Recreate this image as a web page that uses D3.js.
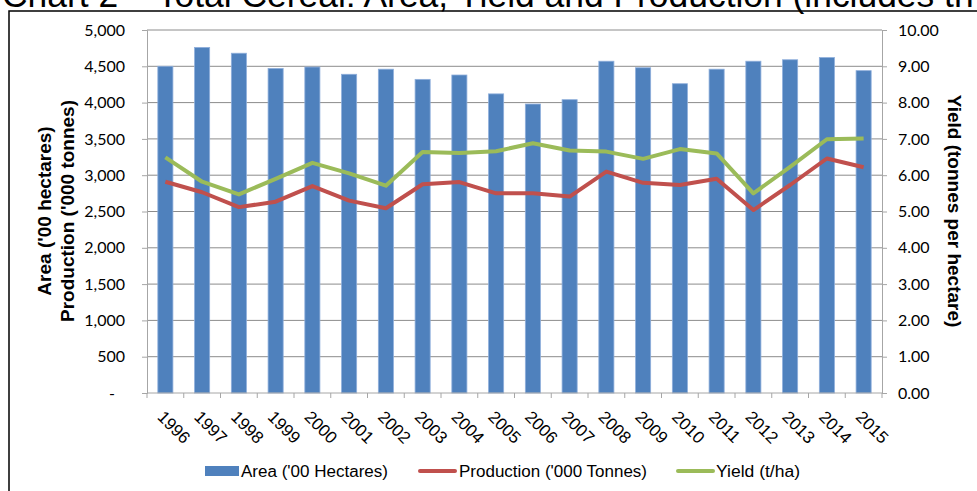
<!DOCTYPE html>
<html>
<head>
<meta charset="utf-8">
<script src="https://cdn.jsdelivr.net/npm/d3@7"></script>
<style>
    body { margin: 0; background: #fff; }
    svg { display: block; }
</style>
</head>
<body>
<svg id="chart" width="977" height="491"></svg>
<script>
// 数据
let years = ['1996', '1997', '1998', '1999', '2000', '2001', '2002', '2003', '2004', '2005',
    '2006', '2007', '2008', '2009', '2010', '2011', '2012', '2013', '2014', '2015'];
let area = [4500, 4760, 4680, 4470, 4490, 4390, 4460, 4320, 4380, 4120,
    3980, 4040, 4570, 4480, 4260, 4460, 4570, 4590, 4620, 4440];
let production = [2910, 2765, 2560, 2635, 2850, 2650, 2545, 2875, 2905, 2750,
    2750, 2705, 3050, 2895, 2865, 2950, 2520, 2865, 3230, 3110];
let yieldVals = [6.49, 5.82, 5.47, 5.90, 6.34, 6.05, 5.71, 6.64, 6.61, 6.66,
    6.88, 6.68, 6.65, 6.45, 6.72, 6.60, 5.50, 6.23, 6.99, 7.01];
let leftTicks = [0, 500, 1000, 1500, 2000, 2500, 3000, 3500, 4000, 4500, 5000];
let rightTicks = [0, 1, 2, 3, 4, 5, 6, 7, 8, 9, 10];

let colors = {area: '#4f81bd', production: '#c0504d', yield: '#9bbb59'};

let svg = d3.select('#chart');
let margin = {left: 147, right: 882, top: 30, bottom: 393};
let arial = 'Liberation Sans, Arial, sans-serif';

// 标题 (被裁掉一半)
let title = svg.append('text')
    .attr('x', 2)
    .attr('y', 7)
    .style('font-family', arial)
    .style('font-size', '27px')
    .text('Chart 2 \u2013 Total Cereal: Area, Yield and Production (includes th');
let tw = title.node().getComputedTextLength();
title.style('font-size', (27 * 972 / tw) + 'px');

// 外框
svg.append('rect')
    .attr('x', 9).attr('y', 11)
    .attr('width', 1000).attr('height', 500)
    .attr('fill', 'none')
    .attr('stroke', '#000')
    .attr('stroke-width', 1.5);

// 比例尺
let x = d3.scaleBand()
    .domain(years)
    .range([margin.left, margin.right])
    .paddingInner(0.59)
    .paddingOuter(0.295);
let xBand = d3.scaleBand().domain(years).range([margin.left, margin.right]);
let yLeft = d3.scaleLinear().domain([0, 5000]).range([margin.bottom, margin.top]);
let yRight = d3.scaleLinear().domain([0, 10]).range([margin.bottom, margin.top]);

// 网格线
svg.append('g')
    .selectAll('line')
    .data(leftTicks.slice(1))
    .enter()
    .append('line')
    .attr('x1', margin.left).attr('x2', margin.right)
    .attr('y1', d => yLeft(d)).attr('y2', d => yLeft(d))
    .attr('stroke', '#8c8c8c')
    .attr('stroke-width', 1);

// 柱子
svg.append('g')
    .selectAll('rect')
    .data(area)
    .enter()
    .append('rect')
    .attr('x', (d, i) => x(years[i]))
    .attr('y', d => yLeft(d))
    .attr('width', x.bandwidth())
    .attr('height', d => yLeft(0) - yLeft(d))
    .attr('fill', colors.area)
    .attr('stroke', '#8eaedb')
    .attr('stroke-width', 0.8);

// 左轴
let leftAxis = d3.axisLeft(yLeft)
    .tickValues(leftTicks)
    .tickSize(5)
    .tickPadding(17)
    .tickFormat(d => d === 0 ? '-' : d3.format(',')(d));
let gl = svg.append('g')
    .attr('transform', 'translate(' + margin.left + ',0)')
    .call(leftAxis);
gl.select('.domain').attr('stroke', '#a6a6a6');
gl.selectAll('.tick line').attr('stroke', '#a6a6a6');
gl.selectAll('.tick text')
    .style('font-family', 'Lato, sans-serif')
    .style('font-size', '16px')
    .attr('fill', '#000');
gl.selectAll('.tick text').filter(d => d === 0).attr('dx', -10);

// 右轴
let rightAxis = d3.axisRight(yRight)
    .tickValues(rightTicks)
    .tickSize(5)
    .tickPadding(11)
    .tickFormat(d3.format('.2f'));
let gr = svg.append('g')
    .attr('transform', 'translate(' + margin.right + ',0)')
    .call(rightAxis);
gr.select('.domain').attr('stroke', '#a6a6a6');
gr.selectAll('.tick line').attr('stroke', '#a6a6a6');
gr.selectAll('.tick text')
    .style('font-family', 'Lato, sans-serif')
    .style('font-size', '16px')
    .attr('fill', '#000');

// X轴
svg.append('line')
    .attr('x1', margin.left).attr('x2', margin.right)
    .attr('y1', margin.bottom).attr('y2', margin.bottom)
    .attr('stroke', '#a6a6a6');
svg.append('g')
    .selectAll('line')
    .data(years.concat(['end']))
    .enter()
    .append('line')
    .attr('x1', (d, i) => i < years.length ? xBand(d) : margin.right)
    .attr('x2', (d, i) => i < years.length ? xBand(d) : margin.right)
    .attr('y1', margin.bottom).attr('y2', margin.bottom + 5)
    .attr('stroke', '#a6a6a6');
svg.append('g')
    .selectAll('text')
    .data(years)
    .enter()
    .append('text')
    .attr('transform', d => 'translate(' + (xBand(d) + xBand.bandwidth() / 2 - 9) + ',418) rotate(45)')
    .style('font-family', arial)
    .style('font-size', '17px')
    .text(d => d);

// 折线
let line = d3.line()
    .x((d, i) => xBand(years[i]) + xBand.bandwidth() / 2);
svg.append('path')
    .datum(production)
    .attr('d', line.y(d => yLeft(d)))
    .attr('fill', 'none')
    .attr('stroke', colors.production)
    .attr('stroke-width', 4)
    .attr('stroke-linejoin', 'round');
svg.append('path')
    .datum(yieldVals)
    .attr('d', line.y(d => yRight(d)))
    .attr('fill', 'none')
    .attr('stroke', colors.yield)
    .attr('stroke-width', 4)
    .attr('stroke-linejoin', 'round');

// 轴标题
let lt = svg.append('text')
    .attr('transform', 'translate(45,211) rotate(-90)')
    .style('text-anchor', 'middle')
    .style('font-family', arial)
    .style('font-weight', 'bold')
    .style('font-size', '19px');
lt.append('tspan').attr('x', 0).attr('dy', 6).text("Area ('00 hectares)");
lt.append('tspan').attr('x', 0).attr('dy', 23).text("Production ('000 tonnes)");

svg.append('text')
    .attr('transform', 'translate(948,211) rotate(90)')
    .style('text-anchor', 'middle')
    .style('font-family', arial)
    .style('font-weight', 'bold')
    .style('font-size', '19px')
    .text('Yield (tonnes per hectare)');

// 图例
let legendY = 471;
let legend = svg.append('g')
    .style('font-family', arial)
    .style('font-size', '16px');
legend.append('rect')
    .attr('x', 205).attr('y', legendY - 5)
    .attr('width', 34).attr('height', 10)
    .attr('fill', colors.area);
legend.append('text').attr('x', 241).attr('y', legendY + 6)
    .attr('textLength', 147).attr('lengthAdjust', 'spacingAndGlyphs')
    .text("Area  ('00 Hectares)");
legend.append('line')
    .attr('x1', 420).attr('x2', 455)
    .attr('y1', legendY).attr('y2', legendY)
    .attr('stroke', colors.production).attr('stroke-width', 4)
    .attr('stroke-linecap', 'round');
legend.append('text').attr('x', 459).attr('y', legendY + 6)
    .attr('textLength', 188).attr('lengthAdjust', 'spacingAndGlyphs')
    .text("Production  ('000 Tonnes)");
legend.append('line')
    .attr('x1', 678).attr('x2', 713)
    .attr('y1', legendY).attr('y2', legendY)
    .attr('stroke', colors.yield).attr('stroke-width', 4)
    .attr('stroke-linecap', 'round');
legend.append('text').attr('x', 716).attr('y', legendY + 6)
    .attr('textLength', 84).attr('lengthAdjust', 'spacingAndGlyphs')
    .text('Yield  (t/ha)');
</script>
</body>
</html>
